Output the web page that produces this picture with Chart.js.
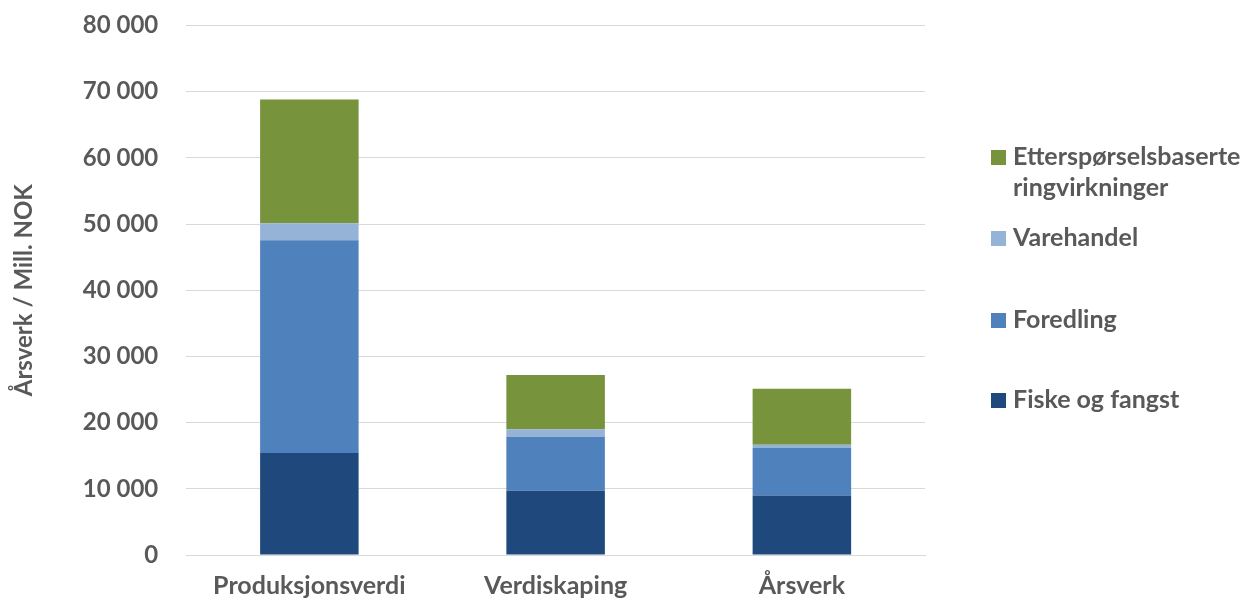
<!DOCTYPE html>
<html>
<head>
<meta charset="utf-8">
<script src="https://cdn.jsdelivr.net/npm/chart.js@4/dist/chart.umd.min.js"></script>
<style>
  html, body { margin: 0; padding: 0; background: #fff; }
  #wrap { position: relative; width: 1246px; height: 602px; overflow: hidden; }
  #chart { position: absolute; left: 0; top: -17px; }
</style>
</head>
<body>
<div id="wrap"><canvas id="chart" width="1246" height="626"></canvas></div>
<script>
const categories = ['Produksjonsverdi', 'Verdiskaping', 'Årsverk'];
const fiske = [15400, 9700, 9000];
const foredling = [32150, 8150, 7170];
const varehandel = [2550, 1150, 500];
const ringvirkninger = [18700, 8200, 8450];
const seriesNames = ['Fiske og fangst', 'Foredling', 'Varehandel', ['Etterspørselsbaserte', 'ringvirkninger']];
const colors = ['#1F497D', '#4F81BD', '#95B3D7', '#77933C'];

const fontFam = 'Lato, "Open Sans", sans-serif';
const grey = '#595959';

// legend drawn at the right, top item first (canvas is shifted up 17px)
const sideLegend = {
  id: 'sideLegend',
  afterDraw(chart) {
    const ctx = chart.ctx;
    const rows = [
      { i: 3, y: 174 },
      { i: 2, y: 255 },
      { i: 1, y: 337 },
      { i: 0, y: 417 }
    ];
    ctx.save();
    ctx.font = 'bold 25px ' + fontFam;
    ctx.textBaseline = 'middle';
    rows.forEach(r => {
      ctx.fillStyle = colors[r.i];
      ctx.fillRect(991, r.y - 7, 15, 15);
      ctx.fillStyle = grey;
      const name = seriesNames[r.i];
      const lines = Array.isArray(name) ? name : [name];
      lines.forEach((t, k) => ctx.fillText(t, 1013, r.y + k * 31));
    });
    ctx.restore();
  }
};

new Chart(document.getElementById('chart'), {
  type: 'bar',
  data: {
    labels: categories,
    datasets: [
      { label: 'Fiske og fangst', data: fiske, backgroundColor: colors[0] },
      { label: 'Foredling', data: foredling, backgroundColor: colors[1] },
      { label: 'Varehandel', data: varehandel, backgroundColor: colors[2] },
      { label: 'Etterspørselsbaserte ringvirkninger', data: ringvirkninger, backgroundColor: colors[3] }
    ]
  },
  options: {
    responsive: false,
    animation: false,
    layout: { padding: { left: 10, right: 321, top: 0, bottom: 0 } },
    datasets: { bar: { barPercentage: 0.4, categoryPercentage: 1 } },
    plugins: {
      legend: { display: false },
      tooltip: { enabled: false }
    },
    scales: {
      x: {
        stacked: true,
        grid: { display: false },
        border: { color: '#d9d9d9', width: 1 },
        ticks: { color: grey, font: { family: fontFam, size: 25, weight: 'bold' }, padding: 8 }
      },
      y: {
        stacked: true,
        min: 0,
        max: 80000,
        grid: { color: '#d9d9d9', drawTicks: false },
        border: { display: false },
        ticks: {
          stepSize: 10000,
          padding: 28,
          color: grey,
          font: { family: fontFam, size: 24, weight: 'bold' },
          callback: v => v.toLocaleString('en-US').replace(/,/g, ' ')
        },
        title: {
          display: true,
          text: 'Årsverk / Mill. NOK',
          color: grey,
          font: { family: fontFam, size: 24, weight: 'bold' },
          padding: { top: 0, bottom: 16 }
        }
      }
    }
  },
  plugins: [sideLegend]
});
</script>
</body>
</html>
